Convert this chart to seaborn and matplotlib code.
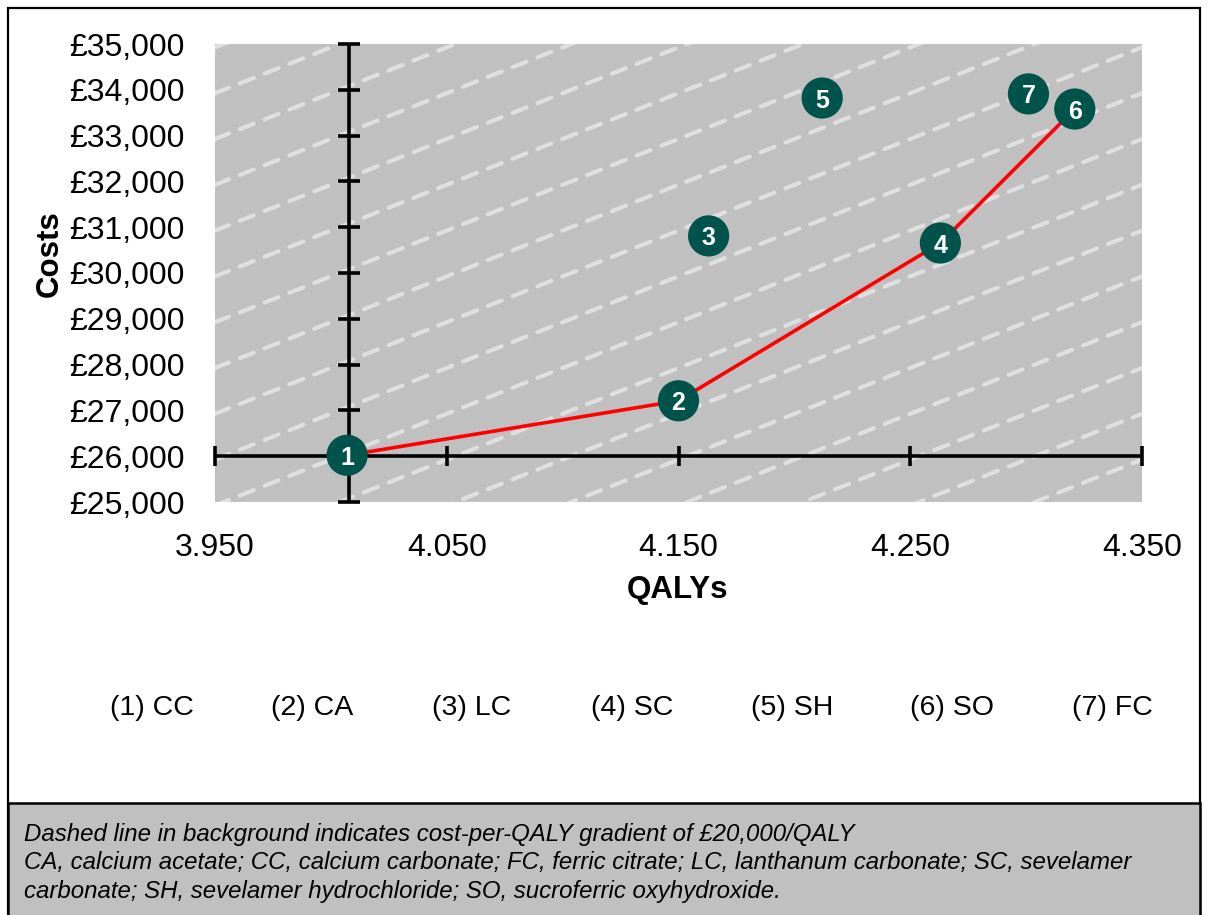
import seaborn as sns
import matplotlib.pyplot as plt
import matplotlib.patches as mpatches
import numpy as np
import pandas as pd

# treatments, in the order they are numbered on the chart
codes = ['CC', 'CA', 'LC', 'SC', 'SH', 'SO', 'FC']
qalys = [4.007, 4.150, 4.163, 4.263, 4.212, 4.321, 4.301]
costs = [26020, 27210, 30810, 30655, 33820, 33580, 33910]
frontier = [0, 1, 3, 5]  # CC -> CA -> SC -> SO

x_ticks = [3.95, 4.05, 4.15, 4.25, 4.35]
y_ticks = list(range(25000, 35001, 1000))
x_cross = 4.008
y_cross = 26000

# background cost-per-QALY lines
wtp = 20000
wtp_anchor_cost = 33926  # value of one line at the left edge
wtp_step = 1000

footnote = ('Dashed line in background indicates cost-per-QALY gradient of \u00a320,000/QALY\n'
            'CA, calcium acetate; CC, calcium carbonate; FC, ferric citrate; LC, lanthanum carbonate; SC, sevelamer\n'
            'carbonate; SH, sevelamer hydrochloride; SO, sucroferric oxyhydroxide.')

df = pd.DataFrame({'num': range(1, 8), 'code': codes, 'qaly': qalys, 'cost': costs})
front = df.iloc[frontier]

sns.set_style('white')
plt.rcParams['font.family'] = ['Liberation Sans', 'DejaVu Sans']
plt.rcParams['text.color'] = 'black'

fig = plt.figure(figsize=(12.08, 9.15), dpi=100)
W, H = 1208, 915
ax = fig.add_axes([215 / W, 1 - 502 / H, 927 / W, 458 / H])
ax.set_facecolor('#c0c0c0')
ax.set_xlim(x_ticks[0], x_ticks[-1])
ax.set_ylim(y_ticks[0], y_ticks[-1])

# dashed gradient lines
xs = np.array([x_ticks[0], x_ticks[-1]])
for k in range(-20, 12):
    ys = wtp_anchor_cost + k * wtp_step + wtp * (xs - x_ticks[0])
    ax.plot(xs, ys, color='#dfdfdf', lw=3.0, ls=(0, (3.6, 2.8)), zorder=1,
            dash_capstyle='round')

# axis lines crossing inside the plot
ax.axhline(y_cross, color='black', lw=2.6, zorder=2)
ax.axvline(x_cross, color='black', lw=2.6, zorder=2)
ax.plot(x_ticks, [y_cross] * len(x_ticks), ls='none', marker='|', ms=15, mew=2.6,
        color='black', zorder=2, clip_on=False)
ax.plot([x_cross] * len(y_ticks), y_ticks, ls='none', marker='_', ms=16, mew=2.6,
        color='black', zorder=2, clip_on=False)

# frontier and points
sns.lineplot(data=front, x='qaly', y='cost', color='#ff0000', lw=2.6, sort=False,
             ax=ax, zorder=3)
sns.scatterplot(data=df, x='qaly', y='cost', s=880, color='#00534a', edgecolor='none',
                ax=ax, zorder=4)
for _, r in df.iterrows():
    ax.text(r['qaly'], r['cost'], str(r['num']), color='white', fontsize=18,
            fontweight='bold', ha='center', va='center_baseline', zorder=5)

for s in ax.spines.values():
    s.set_visible(False)
ax.set_xticks(x_ticks)
ax.set_xticklabels([f'{v:.3f}' for v in x_ticks])
ax.set_yticks(y_ticks)
ax.set_yticklabels([f'\u00a3{v:,}' for v in y_ticks])
ax.tick_params(length=0, labelsize=23, colors='black')
ax.tick_params(axis='x', pad=22)
ax.tick_params(axis='y', pad=22)
ax.set_xlabel('')
ax.set_ylabel('')
ax.grid(False)

fig.text(678 / W, 1 - 590 / H, 'QALYs', fontsize=22.5, fontweight='bold',
         ha='center', va='center')
fig.text(50 / W, 1 - 254 / H, 'Costs', fontsize=22.5, fontweight='bold',
         ha='center', va='center', rotation=90)

# legend row of codes
leg_x = np.linspace(152, 1112, len(codes))
for i, (c, lx) in enumerate(zip(codes, leg_x)):
    fig.text(lx / W, 1 - 708 / H, f'({i + 1}) {c}', fontsize=20.5, ha='center', va='center')

# outer frame and footnote box
fig.patches.append(mpatches.Rectangle((8 / W, -0.01), 1192 / W, 1.01 - 8 / H,
                                      transform=fig.transFigure, fill=False,
                                      edgecolor='black', lw=1.6))
fig.patches.append(mpatches.Rectangle((8 / W, -0.01), 1192 / W, 0.01 + (H - 803) / H,
                                      transform=fig.transFigure, facecolor='#c0c0c0',
                                      edgecolor='black', lw=1.8))
fig.text(24 / W, 1 - 823 / H, footnote, fontsize=17.3, style='italic', ha='left',
         va='top', linespacing=1.3)

fig.savefig('out.png', dpi=100)
